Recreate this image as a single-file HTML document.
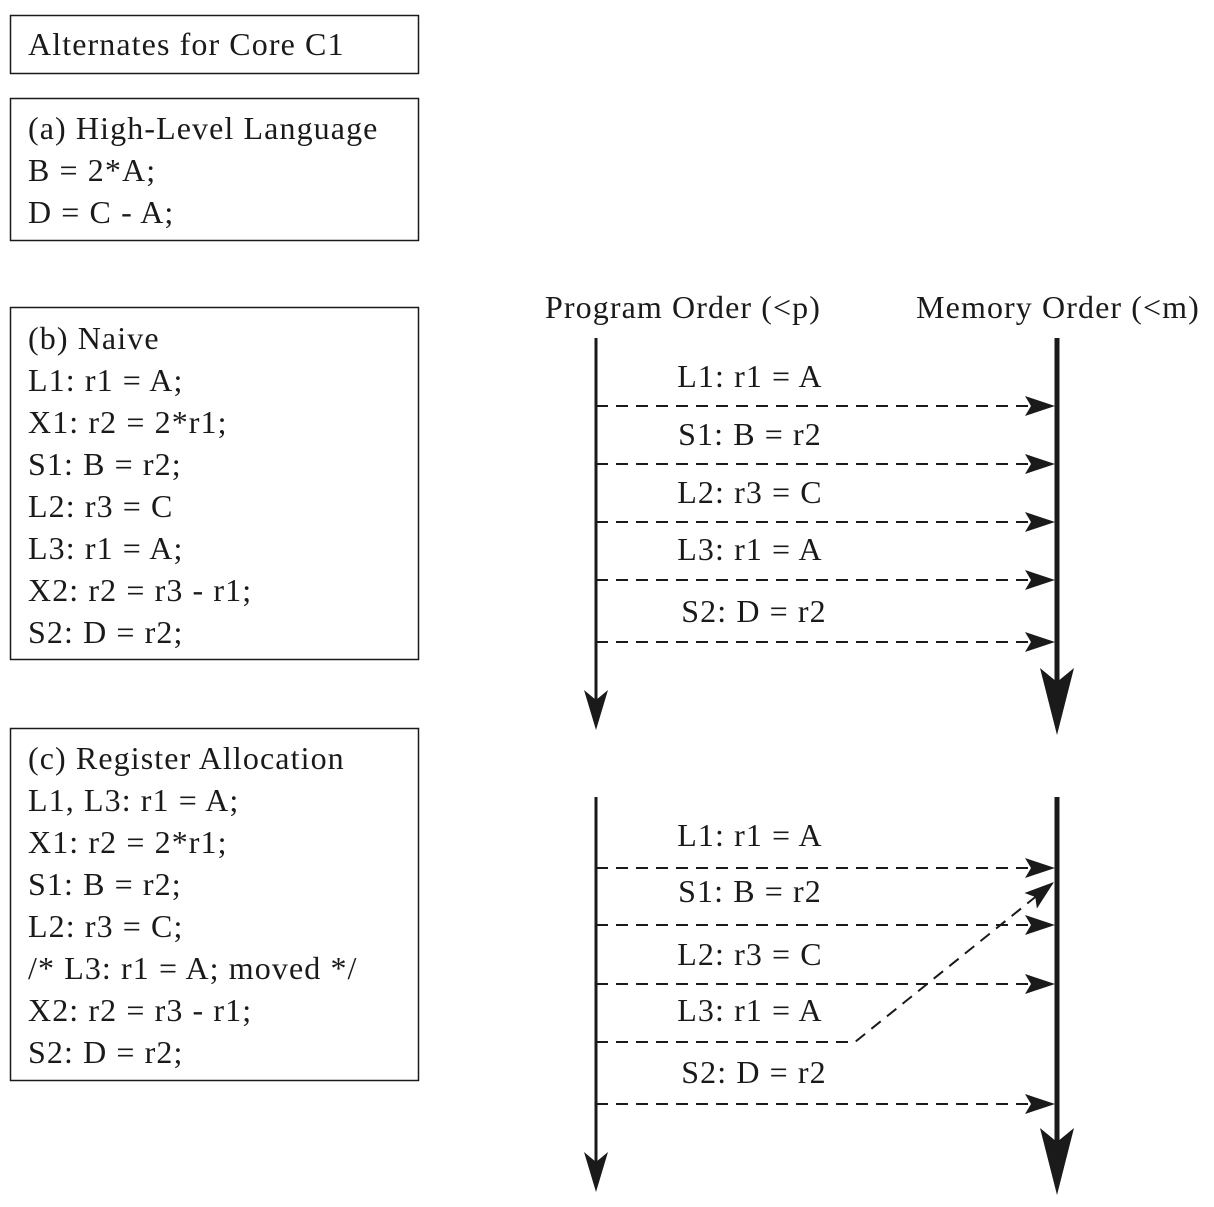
<!DOCTYPE html>
<html><head><style>body{margin:0;background:#fff}</style></head><body>
<svg width="1214" height="1202" viewBox="0 0 1214 1202" xmlns="http://www.w3.org/2000/svg" font-family="Liberation Serif, serif" fill="#1a1a1a">
<defs>
<marker id="h" viewBox="0 0 30 20" refX="30" refY="10" markerWidth="30" markerHeight="20" markerUnits="userSpaceOnUse" orient="auto"><path d="M0,0 L30,10 L0,20 L6,10 Z" fill="#1a1a1a"/></marker>
</defs>
<g fill="none" stroke="#1a1a1a" stroke-width="1.5">
<rect x="10.5" y="15.5" width="408" height="58"/>
<rect x="10.5" y="98.5" width="408" height="142"/>
<rect x="10.5" y="307.5" width="408" height="352"/>
<rect x="10.5" y="728.5" width="408" height="352"/>
</g>
<g font-size="32" letter-spacing="1.1">
<text x="28" y="55">Alternates for Core C1</text>
<text x="28" y="139">(a) High-Level Language</text>
<text x="28" y="181">B = 2*A;</text>
<text x="28" y="223">D = C - A;</text>
<text x="28" y="349">(b) Naive</text>
<text x="28" y="391">L1: r1 = A;</text>
<text x="28" y="433">X1: r2 = 2*r1;</text>
<text x="28" y="475">S1: B = r2;</text>
<text x="28" y="517">L2: r3 = C</text>
<text x="28" y="559">L3: r1 = A;</text>
<text x="28" y="601">X2: r2 = r3 - r1;</text>
<text x="28" y="643">S2: D = r2;</text>
<text x="28" y="769">(c) Register Allocation</text>
<text x="28" y="811">L1, L3: r1 = A;</text>
<text x="28" y="853">X1: r2 = 2*r1;</text>
<text x="28" y="895">S1: B = r2;</text>
<text x="28" y="937">L2: r3 = C;</text>
<text x="28" y="979">/* L3: r1 = A; moved */</text>
<text x="28" y="1021">X2: r2 = r3 - r1;</text>
<text x="28" y="1063">S2: D = r2;</text>
<g text-anchor="middle">
<text x="683" y="318">Program Order (&lt;p)</text>
<text x="1058" y="318">Memory Order (&lt;m)</text>
<text x="750" y="387">L1: r1 = A</text>
<text x="750" y="445">S1: B = r2</text>
<text x="750" y="503">L2: r3 = C</text>
<text x="750" y="560">L3: r1 = A</text>
<text x="754" y="622">S2: D = r2</text>
<text x="750" y="846">L1: r1 = A</text>
<text x="750" y="902">S1: B = r2</text>
<text x="750" y="965">L2: r3 = C</text>
<text x="750" y="1021">L3: r1 = A</text>
<text x="754" y="1083">S2: D = r2</text>
</g>
</g>
<g stroke="#1a1a1a" fill="none">
<line x1="596" y1="338" x2="596" y2="710" stroke-width="3"/>
<line x1="1057" y1="338" x2="1057" y2="690" stroke-width="5"/>
<line x1="596" y1="797" x2="596" y2="1172" stroke-width="3"/>
<line x1="1057" y1="797" x2="1057" y2="1150" stroke-width="5"/>
<g stroke-width="2" stroke-dasharray="12,8" marker-end="url(#h)">
<line x1="596" y1="406" x2="1055" y2="406"/>
<line x1="596" y1="464" x2="1055" y2="464"/>
<line x1="596" y1="522" x2="1055" y2="522"/>
<line x1="596" y1="580" x2="1055" y2="580"/>
<line x1="596" y1="642" x2="1055" y2="642"/>
<line x1="596" y1="868" x2="1055" y2="868"/>
<line x1="596" y1="925" x2="1055" y2="925"/>
<line x1="596" y1="984" x2="1055" y2="984"/>
<polyline points="596,1042 855,1042 1054,882"/>
<line x1="596" y1="1104" x2="1055" y2="1104"/>
</g>
</g>
<path d="M584,690 L596,730 L608,690 L596,700 Z"/>
<path d="M1040,668 L1057,735 L1074,668 L1057,682 Z"/>
<path d="M584,1152 L596,1192 L608,1152 L596,1162 Z"/>
<path d="M1040,1128 L1057,1195 L1074,1128 L1057,1142 Z"/>
</svg>
</body></html>
